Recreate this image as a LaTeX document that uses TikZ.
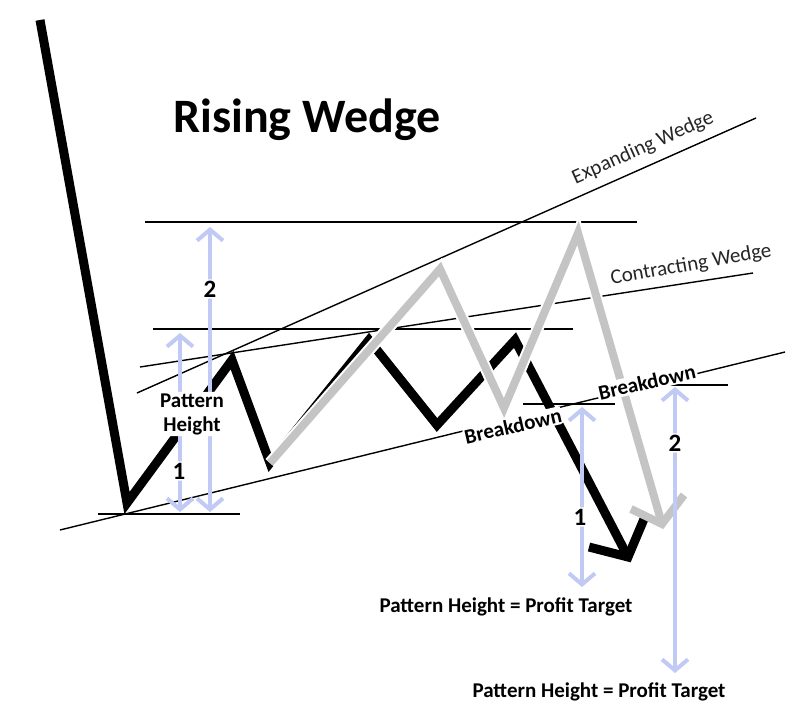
\documentclass[tikz,border=0pt]{standalone}
\usepackage{fontspec}
\setmainfont{Carlito}
\usetikzlibrary{arrows.meta}
\definecolor{pblue}{RGB}{192,202,245}
\definecolor{pgray}{RGB}{196,196,196}
\begin{document}
\begin{tikzpicture}[x=1pt,y=-1pt,
  guide/.style={line width=1.4pt, black},
  price/.style={line width=9pt, black, line join=miter, miter limit=10},
  ghost/.style={line width=8pt, pgray, line join=miter, miter limit=10},
  halo/.style={line width=12pt, white, line join=miter, miter limit=10},
  measure/.style={line width=4pt, pblue, {Straight Barb[length=11pt,width=26pt]}-{Straight Barb[length=11pt,width=26pt]}},
  lbl/.style={fill=white, rounded corners=4pt, inner sep=1.5pt, font=\fontsize{21}{24}\selectfont\bfseries},
  wlbl/.style={fill=white, rounded corners=4pt, inner sep=1pt, font=\fontsize{21}{22}\selectfont, text=black!85},
  num/.style={fill=white, rounded corners=4pt, inner sep=1.5pt, font=\fontsize{25}{26}\selectfont\bfseries}
]
\useasboundingbox (0,0) rectangle (800,725);
\fill[white] (0,0) rectangle (800,725);

% guide lines
\coordinate (h1a) at (145,222); \coordinate (h1b) at (637,222);
\coordinate (h2a) at (153,329); \coordinate (h2b) at (573,329);
\coordinate (h3a) at (98,514);  \coordinate (h3b) at (240,514);
\coordinate (bk1a) at (523,404); \coordinate (bk1b) at (615,404);
\coordinate (bk2a) at (666,385); \coordinate (bk2b) at (728,385);
\coordinate (lowa) at (60,530); \coordinate (lowb) at (785,352);
\coordinate (expa) at (137,393); \coordinate (expb) at (756,118);
\coordinate (cona) at (140,367); \coordinate (conb) at (753,273);
\draw[guide] (h1a) -- (h1b);
\draw[guide] (h2a) -- (h2b);
\draw[guide] (h3a) -- (h3b);
\draw[guide] (bk1a) -- (bk1b);
\draw[guide] (bk2a) -- (bk2b);
\draw[guide] (lowa) -- (lowb);
\draw[guide] (expa) -- (expb);
\draw[guide] (cona) -- (conb);

% black price path
\coordinate (s0) at (40,20);
\coordinate (b0) at (127,503);
\coordinate (p1) at (232,360);
\coordinate (t1) at (270,463);
\coordinate (p2) at (369,340);
\coordinate (t2) at (437,425);
\coordinate (p3) at (515,340);
\coordinate (tip) at (628,557);
\coordinate (ar1) at (589,547);
\coordinate (ar2) at (644,519);
\draw[price] (s0) -- (b0) -- (p1) -- (t1) -- (p2) -- (t2) -- (p3) -- (tip);
\draw[price] (ar1) -- (tip) -- (ar2);

% gray alternative path
\coordinate (g1) at (440,269);
\coordinate (g2) at (504,408);
\coordinate (g3) at (578,233);
\coordinate (gtip) at (662,524);
\coordinate (ga1) at (631,509);
\coordinate (ga2) at (684,495);
\draw[halo] (t1) -- (g1) -- (g2) -- (g3) -- (gtip);
\draw[ghost] (t1) -- (g1) -- (g2) -- (g3) -- (gtip);
\draw[ghost] (ga1) -- (gtip) -- (ga2);

% measurement arrows
\coordinate (m2t) at (210,227); \coordinate (m2b) at (210,512);
\coordinate (m1t) at (180,333); \coordinate (m1b) at (180,512);
\coordinate (r1t) at (582,407); \coordinate (r1b) at (582,587);
\coordinate (r2t) at (675,387); \coordinate (r2b) at (675,673);
\draw[measure] (m2t) -- (m2b);
\draw[measure] (m1t) -- (m1b);
\draw[measure] (r1t) -- (r1b);
\draw[measure] (r2t) -- (r2b);

% labels
\node[font=\fontsize{48}{50}\selectfont\bfseries, anchor=base] (title) at (307,132) {Rising Wedge};
\node[num] (n2l) at (210,289) {2};
\node[num] (n1l) at (179,471) {1};
\node[num] (n1r) at (580,517) {1};
\node[num] (n2r) at (675,443) {2};
\node[lbl, align=center] (ph) at (192,414) {Pattern\\Height};
\node[lbl, anchor=base] (pt1) at (506,612) {Pattern Height = Profit Target};
\node[lbl, anchor=base] (pt2) at (599,697) {Pattern Height = Profit Target};
\node[lbl, rotate=13] (bd1) at (513,426) {Breakdown};
\node[lbl, rotate=13] (bd2) at (647,382) {Breakdown};
\node[wlbl, rotate=24] (ew) at (643,148) {Expanding Wedge};
\node[wlbl, rotate=10] (cw) at (691,265) {Contracting Wedge};
\end{tikzpicture}
\end{document}
